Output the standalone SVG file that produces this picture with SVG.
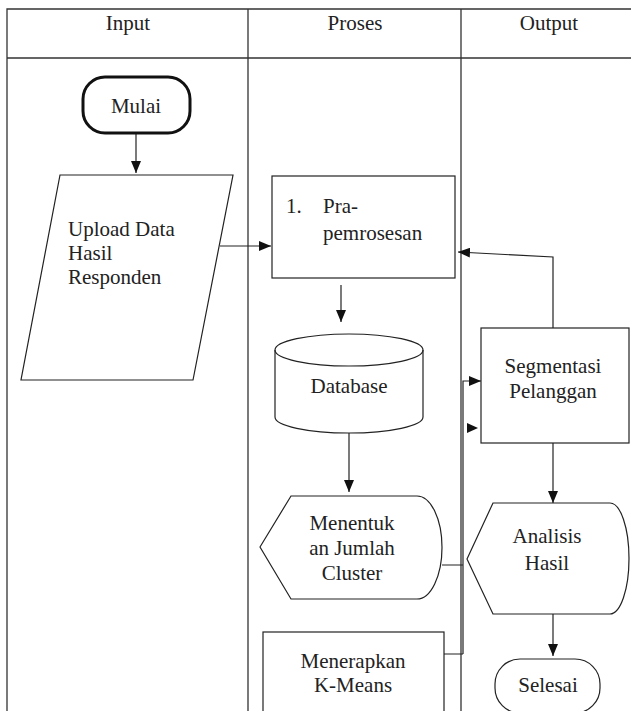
<svg xmlns="http://www.w3.org/2000/svg" width="631" height="711" viewBox="0 0 631 711">
<defs>
<style>
.t{font-family:'Liberation Serif','Times New Roman',Tinos,'DejaVu Serif',serif;font-size:21px;fill:#222}
.c{text-anchor:middle}
.s{fill:#fff;stroke:#222;stroke-width:1.2}
.ln{fill:none;stroke:#222;stroke-width:1.2}
.grid{fill:none;stroke:#333;stroke-width:1.3}
</style>
<marker id="ah" viewBox="0 0 12 10" refX="12" refY="5" markerWidth="12" markerHeight="10" markerUnits="userSpaceOnUse" orient="auto">
<path d="M0,0 L12,5 L0,10 z" fill="#111"/>
</marker>
</defs>
<rect width="631" height="711" fill="#fff"/>
<g id="table">
<path class="grid" d="M7,711 V9 H640 M7,58 H640 M248,9 V711 M461,9 V711"/>
<text class="t c" x="128" y="30">Input</text>
<text class="t c" x="355" y="30">Proses</text>
<text class="t c" x="549" y="30">Output</text>
</g>
<g id="connectors">
<path class="ln" d="M136,133 V173" marker-end="url(#ah)"/>
<path class="ln" d="M220,246 H271" marker-end="url(#ah)"/>
<path class="ln" d="M341,285 V322" marker-end="url(#ah)"/>
<path class="ln" d="M349,433 V492" marker-end="url(#ah)"/>
<path class="ln" d="M553,328 V257 L458,252" marker-end="url(#ah)"/>
<path class="ln" d="M442,565 H463 M444,654 H463 M463,654 V381 H481" marker-end="url(#ah)"/>
<path class="ln" d="M553,443 V503" marker-end="url(#ah)"/>
<path class="ln" d="M553,614 V656" marker-end="url(#ah)"/>
<polygon points="467,423 478,428 467,433" fill="#111"/>
</g>
<g id="mulai">
<rect x="83" y="77" width="107" height="56" rx="22" fill="#fff" stroke="#111" stroke-width="3"/>
<text class="t c" x="136" y="113">Mulai</text>
</g>
<g id="upload">
<polygon class="s" points="60,175 233,175 193,380 21,380"/>
<text class="t" x="68" y="236">Upload Data</text>
<text class="t" x="68" y="260">Hasil</text>
<text class="t" x="68" y="284">Responden</text>
</g>
<g id="prapemrosesan">
<rect class="s" x="272" y="176" width="183" height="102"/>
<text class="t" x="286" y="213">1.</text>
<text class="t" x="323" y="213">Pra-</text>
<text class="t" x="323" y="240">pemrosesan</text>
</g>
<g id="database">
<path class="s" d="M275,350 A74,16 0 0 1 423,350 V417 A74,16 0 0 1 275,417 Z"/>
<path class="ln" d="M275,350 A74,16 0 0 0 423,350"/>
<text class="t c" x="349" y="393">Database</text>
</g>
<g id="menentukan">
<path class="s" d="M260,547 L291,496 H417 A25,51.5 0 0 1 417,599 H291 Z"/>
<text class="t c" x="352" y="530">Menentuk</text>
<text class="t c" x="352" y="555">an Jumlah</text>
<text class="t c" x="352" y="580">Cluster</text>
</g>
<g id="kmeans">
<rect class="s" x="263" y="632" width="181" height="90"/>
<text class="t c" x="353" y="668">Menerapkan</text>
<text class="t c" x="353" y="692">K-Means</text>
</g>
<g id="segmentasi">
<rect class="s" x="481" y="328" width="148" height="115"/>
<text class="t c" x="553" y="373">Segmentasi</text>
<text class="t c" x="553" y="398">Pelanggan</text>
</g>
<g id="analisis">
<path class="s" d="M467,559 L493,503 H610 A19,55.5 0 0 1 610,614 H493 Z"/>
<text class="t c" x="547" y="543">Analisis</text>
<text class="t c" x="547" y="570">Hasil</text>
</g>
<g id="selesai">
<rect class="s" x="495" y="659" width="105" height="54" rx="25"/>
<text class="t c" x="548" y="692">Selesai</text>
</g>
</svg>
